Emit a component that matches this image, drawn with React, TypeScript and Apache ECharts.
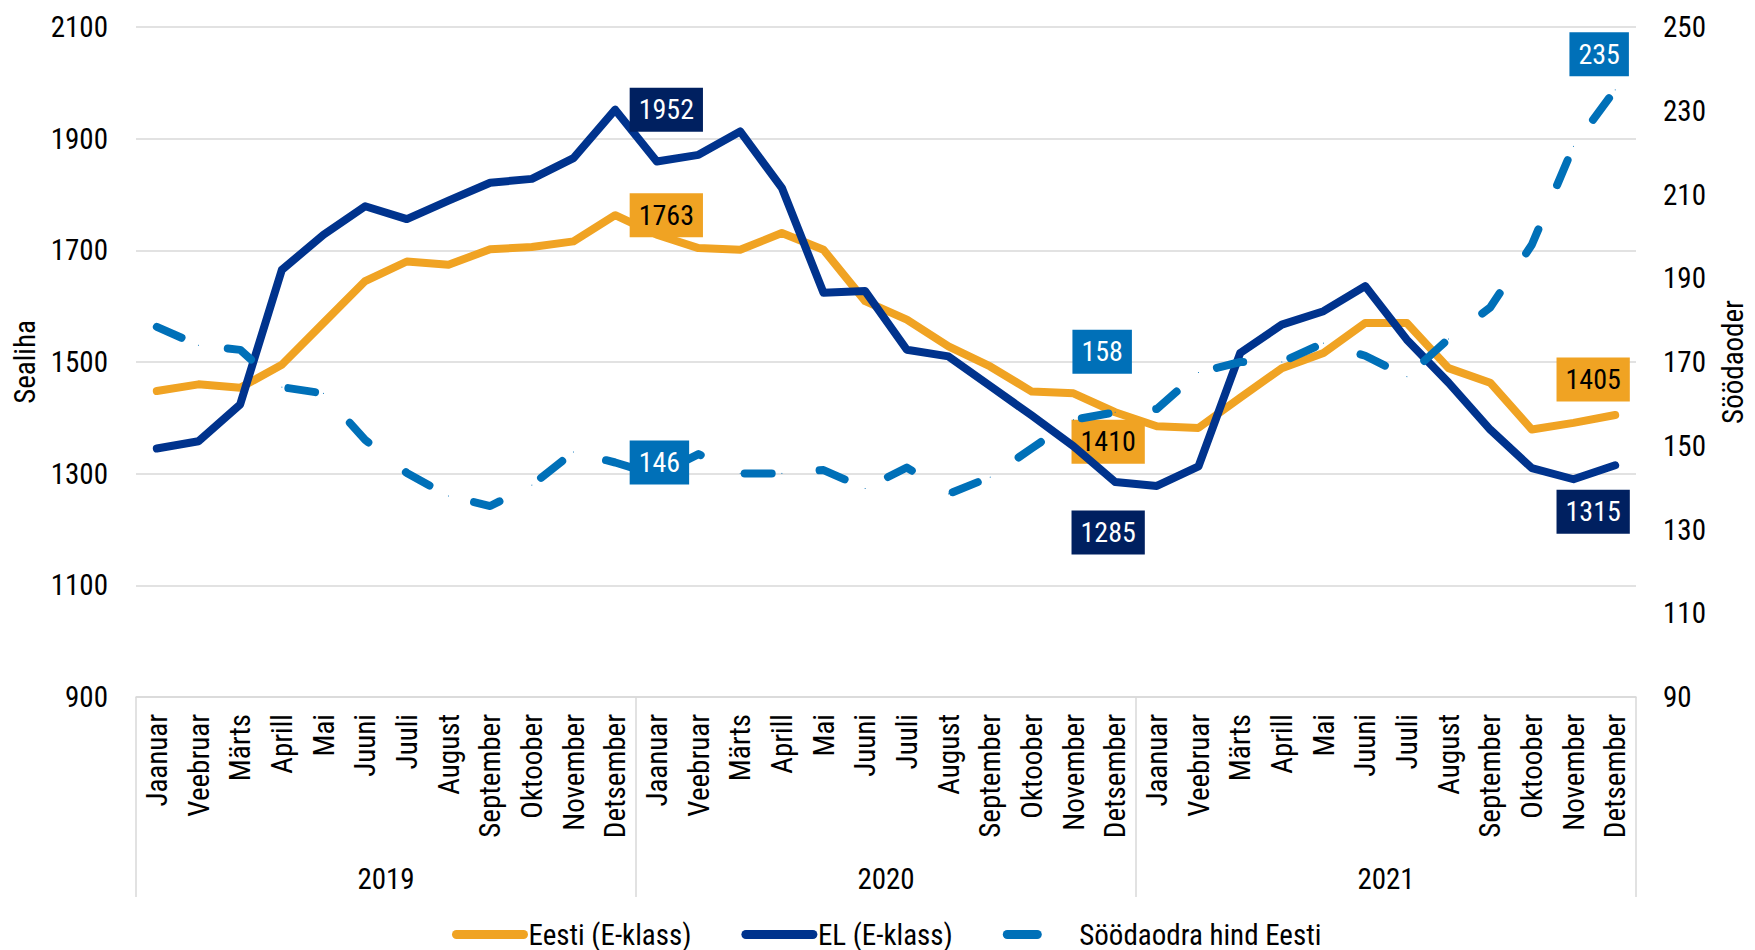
import React, { useEffect, useRef } from "react";
import * as echarts from "echarts";

const months = ["Jaanuar", "Veebruar", "Märts", "Aprill", "Mai", "Juuni", "Juuli", "August", "September", "Oktoober", "November", "Detsember"];
const years = ["2019", "2020", "2021"];

const eesti = [1448, 1460, 1454, 1495, 1570, 1645, 1680, 1674, 1702, 1706, 1716, 1763,
  1728, 1704, 1701, 1731, 1701, 1609, 1576, 1528, 1492, 1447, 1444, 1410,
  1385, 1382, 1436, 1489, 1516, 1570, 1570, 1489, 1463, 1379, 1391, 1405];
const el = [1345, 1358, 1424, 1665, 1728, 1779, 1756, 1789, 1821, 1828, 1865, 1952,
  1859, 1871, 1913, 1812, 1624, 1627, 1522, 1510, 1457, 1404, 1349, 1285,
  1278, 1313, 1516, 1567, 1591, 1636, 1540, 1463, 1379, 1310, 1290, 1315];
const soodaoder = [178.4, 174, 172.9, 164, 162.5, 151.4, 143.5, 138, 135.6, 140.6, 148.5, 146,
  143, 148, 143.4, 143.4, 144.2, 139.8, 144.8, 138.5, 142.5, 149.4, 156.2, 158,
  158.8, 167.5, 170, 170, 174.5, 171.5, 166.5, 175.5, 183, 198, 221.5, 235];

const leftTicks = { min: 900, max: 2100, step: 200 };
const rightTicks = { min: 90, max: 250, step: 20 };

const FONT = "'Roboto Condensed', 'Liberation Sans Narrow', 'Arial Narrow', 'DejaVu Sans Condensed', Roboto, sans-serif";
const C_ORANGE = "#F0A323";
const C_NAVY = "#00338D";
const C_BLUE = "#0070B8";
const C_NAVY_LBL = "#002060";
const C_GRID = "#D9D9D9";
const FS = 29;

type LblSpec = { position: string; distance: number; offset?: number[] };

function buildData(values: number[], specs: Record<number, LblSpec>, bg: string, fg: string) {
  return values.map((v, i) => {
    const s = specs[i];
    if (!s) return v;
    return {
      value: v,
      label: {
        show: true,
        position: s.position,
        distance: s.distance,
        offset: s.offset || [0, 0],
        backgroundColor: bg,
        color: fg,
        fontFamily: FONT,
        fontSize: 28,
        lineHeight: 32,
        padding: [6, 9],
        formatter: (p: any) => String(Math.round(p.value)),
      },
    };
  });
}

export default function App() {
  const ref = useRef<HTMLDivElement>(null);
  useEffect(() => {
    document.body.style.margin = "0";
    if (!ref.current) return;
    const chart = echarts.init(ref.current, null, { renderer: "svg" });
    const cats: string[] = [];
    years.forEach((y) => months.forEach((m) => cats.push(m + "_" + y)));

    const option: any = {
      animation: false,
      backgroundColor: "#fff",
      textStyle: { fontFamily: FONT },
      grid: { left: 136, right: 113, top: 27, bottom: 253, containLabel: false },
      legend: {
        show: true,
        left: 447,
        top: 915,
        itemWidth: 67,
        itemHeight: 10,
        itemGap: 50,
        textStyle: { fontFamily: FONT, fontSize: FS, color: "#000" },
        itemStyle: { opacity: 0 },
        lineStyle: { width: 9, cap: "round" },
        data: [
          { name: "Eesti (E-klass)" },
          { name: "EL (E-klass)" },
          { name: "Söödaodra hind Eesti", lineStyle: { type: [30, 200], width: 9, cap: "round" } },
        ],
      },
      xAxis: [
        {
          type: "category",
          data: cats,
          boundaryGap: true,
          axisLine: { show: true, lineStyle: { color: C_GRID, width: 1.5 } },
          axisTick: { show: false },
          axisLabel: {
            rotate: 90,
            interval: 0,
            margin: 17,
            fontFamily: FONT,
            fontSize: FS,
            color: "#000",
            formatter: (v: string) => v.split("_")[0],
          },
          splitLine: { show: false },
        },
        {
          type: "category",
          data: years,
          position: "bottom",
          boundaryGap: true,
          axisLine: { show: false },
          axisTick: { show: true, length: 200, lineStyle: { color: C_GRID, width: 1.5 } },
          axisLabel: { margin: 167, fontFamily: FONT, fontSize: FS, color: "#000" },
          splitLine: { show: false },
        },
      ],
      yAxis: [
        {
          type: "value",
          min: leftTicks.min,
          max: leftTicks.max,
          interval: leftTicks.step,
          position: "left",
          name: "Sealiha",
          nameLocation: "middle",
          nameGap: 97,
          nameRotate: 90,
          nameTextStyle: { fontFamily: FONT, fontSize: FS, color: "#000" },
          axisLine: { show: false },
          axisTick: { show: false },
          axisLabel: { margin: 28, fontFamily: FONT, fontSize: FS, color: "#000", formatter: (v: number) => String(v) },
          splitLine: { show: true, lineStyle: { color: C_GRID, width: 1.5 } },
        },
        {
          type: "value",
          min: rightTicks.min,
          max: rightTicks.max,
          interval: rightTicks.step / 2,
          position: "right",
          name: "Söödaoder",
          nameLocation: "middle",
          nameGap: 82,
          nameRotate: 90,
          nameTextStyle: { fontFamily: FONT, fontSize: FS, color: "#000" },
          axisLine: { show: false },
          axisTick: { show: false },
          axisLabel: {
            margin: 27,
            fontFamily: FONT,
            fontSize: FS,
            color: "#000",
            formatter: (v: number) => ((v - rightTicks.min) % rightTicks.step === 0 ? String(v) : ""),
          },
          splitLine: { show: false },
        },
      ],
      series: [
        {
          name: "Eesti (E-klass)",
          type: "line",
          xAxisIndex: 0,
          yAxisIndex: 0,
          data: buildData(eesti, {
            11: { position: "right", distance: 14 },
            23: { position: "bottom", distance: 7, offset: [-7, 0] },
            35: { position: "top", distance: 13, offset: [-22, 0] },
          }, C_ORANGE, "#000"),
          color: C_ORANGE,
          symbol: "circle",
          symbolSize: 1,
          showSymbol: true,
          showAllSymbol: true,
          lineStyle: { color: C_ORANGE, width: 8, join: "round", cap: "round" },
          itemStyle: { color: C_ORANGE },
          label: { show: false },
          emphasis: { disabled: true },
          z: 2,
        },
        {
          name: "EL (E-klass)",
          type: "line",
          xAxisIndex: 0,
          yAxisIndex: 0,
          data: buildData(el, {
            11: { position: "right", distance: 14 },
            23: { position: "bottom", distance: 28, offset: [-7, 0] },
            35: { position: "bottom", distance: 24, offset: [-22, 0] },
          }, C_NAVY_LBL, "#fff"),
          color: C_NAVY,
          symbol: "circle",
          symbolSize: 1,
          showSymbol: true,
          showAllSymbol: true,
          lineStyle: { color: C_NAVY, width: 8, join: "round", cap: "round" },
          itemStyle: { color: C_NAVY },
          label: { show: false },
          emphasis: { disabled: true },
          z: 3,
        },
        {
          name: "Söödaodra hind Eesti",
          type: "line",
          xAxisIndex: 0,
          yAxisIndex: 1,
          data: buildData(soodaoder, {
            11: { position: "right", distance: 14 },
            23: { position: "top", distance: 38, offset: [-13, 0] },
            35: { position: "top", distance: 13, offset: [-16, 0] },
          }, C_BLUE, "#fff"),
          color: C_BLUE,
          symbol: "circle",
          symbolSize: 1,
          showSymbol: true,
          showAllSymbol: true,
          lineStyle: { color: C_BLUE, width: 8, type: [27, 48], join: "round", cap: "round" },
          itemStyle: { color: C_BLUE },
          label: { show: false },
          emphasis: { disabled: true },
          z: 4,
        },
      ],
    };
    chart.setOption(option);
    return () => chart.dispose();
  }, []);
  return <div ref={ref} style={{ width: 1755, height: 950 }} />;
}
